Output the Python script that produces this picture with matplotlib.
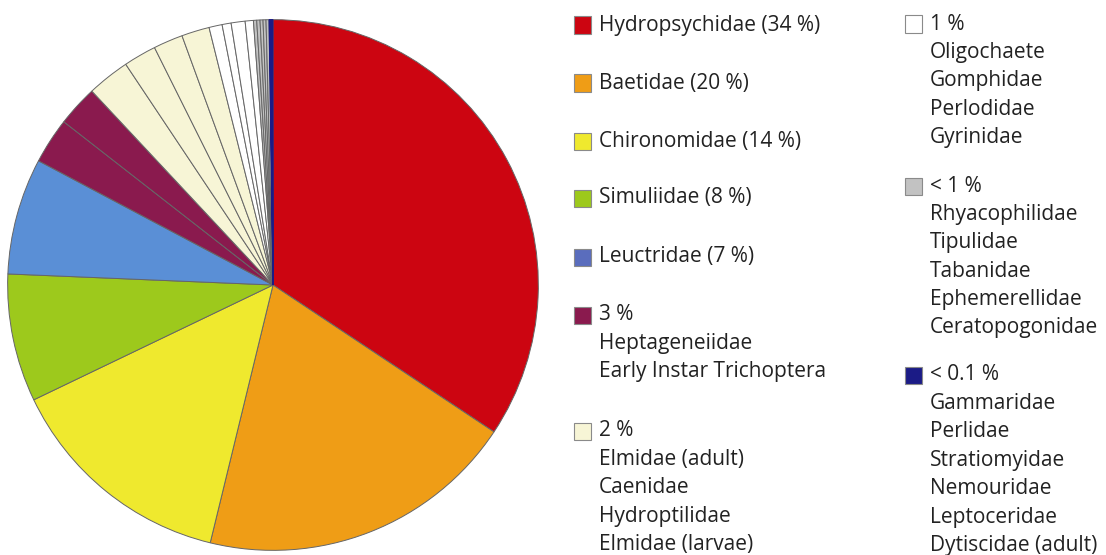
import matplotlib.pyplot as plt
from matplotlib.patches import Rectangle

W, H = 1106, 555

# families in pie order (clockwise from 12 o'clock) and their share of the catch (%)
families = ["Hydropsychidae", "Baetidae", "Chironomidae", "Simuliidae", "Leuctridae",
            "Heptageneiidae", "Early Instar Trichoptera",
            "Elmidae (adult)", "Caenidae", "Hydroptilidae", "Elmidae (larvae)",
            "Oligochaete", "Gomphidae", "Perlodidae", "Gyrinidae",
            "Rhyacophilidae", "Tipulidae", "Tabanidae", "Ephemerellidae", "Ceratopogonidae",
            "Gammaridae", "Perlidae", "Stratiomyidae", "Nemouridae", "Leptoceridae",
            "Dytiscidae (adult)"]
shares = [34.4, 19.5, 14.1, 7.8, 7.1,
          2.8, 2.5,
          2.6, 2.0, 1.8, 1.7,
          0.8, 0.55, 0.85, 0.5,
          0.2, 0.2, 0.18, 0.18, 0.18,
          0.04, 0.04, 0.04, 0.04, 0.04, 0.04]
group = [0, 1, 2, 3, 4, 5, 5, 6, 6, 6, 6, 7, 7, 7, 7, 8, 8, 8, 8, 8, 9, 9, 9, 9, 9, 9]

group_labels = ["Hydropsychidae (34 %)", "Baetidae (20 %)", "Chironomidae (14 %)",
                "Simuliidae (8 %)", "Leuctridae (7 %)", "3 %", "2 %", "1 %", "< 1 %", "< 0.1 %"]
group_colors = ["#cc0511", "#ef9d16", "#efe92e", "#9dc91c", "#5a8fd6",
                "#8a1a4e", "#f7f5d6", "#ffffff", "#c2c2c2", "#1b1b86"]
legend_colors = list(group_colors)
legend_colors[4] = "#5a6dbd"

fig = plt.figure(figsize=(W / 100, H / 100), dpi=100)
fig.patch.set_facecolor("white")

# pie: centre (273, 285) px, radius 268 px
cx, cy, r = 273, 285, 268
ax = fig.add_axes([(cx - r) / W, (H - cy - r) / H, 2 * r / W, 2 * r / H])
wedges, _ = ax.pie(shares, colors=[group_colors[g] for g in group], startangle=90,
                   counterclock=False, radius=1,
                   wedgeprops=dict(edgecolor="#666666", linewidth=0.7))
# the tiniest slices are outlined in their own colour so they stay visible
for w, g in zip(wedges, group):
    if g == 9:
        w.set_edgecolor(group_colors[9])
ax.set_xlim(-1.01, 1.01)
ax.set_ylim(-1.01, 1.01)
ax.set_aspect("equal")
ax.axis("off")

font = dict(family=["Open Sans", "DejaVu Sans"], fontsize=15, color="#222222", va="center")


def swatch(x, y, color):
    fig.patches.append(Rectangle((x / W, 1 - (y + 8.5) / H), 17 / W, 17 / H,
                                 transform=fig.transFigure, facecolor=color,
                                 edgecolor="#8a8a8a", linewidth=0.8))


def put(x, y, s):
    fig.text(x / W, 1 - y / H, s, **font)


# left legend column: single families, then 3 % and 2 % groups
col1 = [25, 83, 141, 198, 257, 315, 431]
for gi, y in enumerate(col1):
    swatch(574, y, legend_colors[gi])
    put(599, y, group_labels[gi])

# right legend column: 1 %, < 1 % and < 0.1 % groups
col2 = [24, 186, 375]
for k, y in enumerate(col2):
    swatch(905, y, legend_colors[7 + k])
    put(930, y, group_labels[7 + k])

# member names listed under each small-share group
step = 28.4
for gi, x, y0 in [(5, 599, 315), (6, 599, 431), (7, 930, 24), (8, 930, 186), (9, 930, 375)]:
    members = [f for f, g in zip(families, group) if g == gi]
    for j, name in enumerate(members):
        put(x, y0 + step * (j + 1), name)

fig.savefig("out.png", dpi=100, facecolor="white")
